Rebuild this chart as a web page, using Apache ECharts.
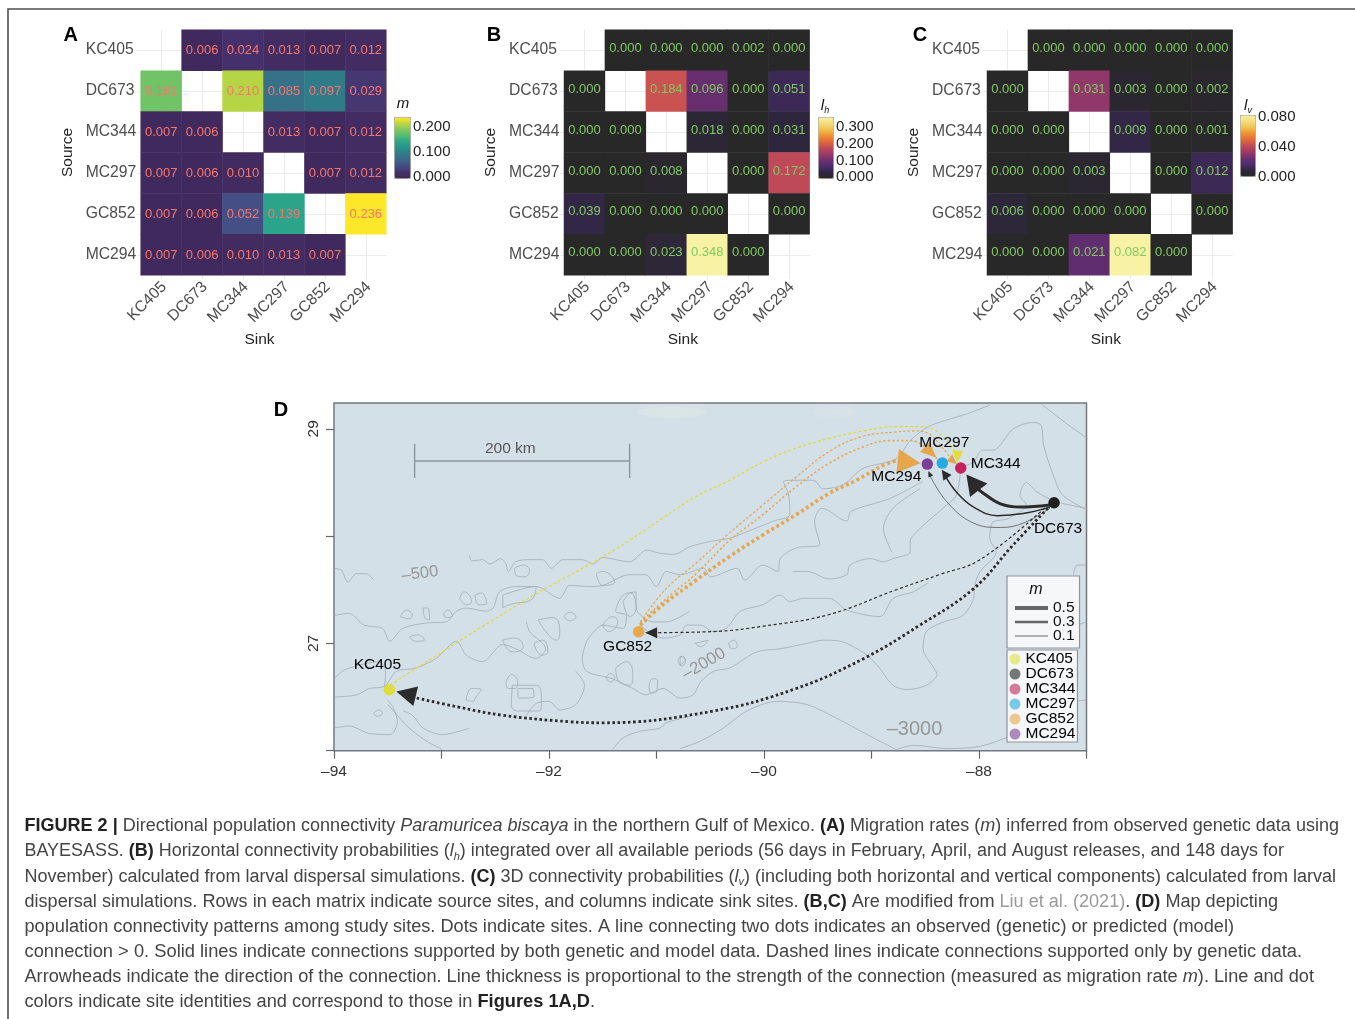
<!DOCTYPE html>
<html><head><meta charset="utf-8">
<style>html,body{margin:0;padding:0;background:#fff}#c{width:1355px;height:1019px}</style>
<script src="https://cdn.jsdelivr.net/npm/echarts@6/dist/echarts.min.js"></script>
</head><body><div id="c"></div>
<script>
// ---------- heat-matrix data ----------
const sites = ['KC405','DC673','MC344','MC297','GC852','MC294'];
const migrationM = [
 [null,.006,.024,.013,.007,.012],
 [.181,null,.210,.085,.097,.029],
 [.007,.006,null,.013,.007,.012],
 [.007,.006,.010,null,.007,.012],
 [.007,.006,.052,.139,null,.236],
 [.007,.006,.010,.013,.007,null]];
const horizontalLh = [
 [null,0,0,0,.002,0],
 [0,null,.184,.096,0,.051],
 [0,0,null,.018,0,.031],
 [0,0,.008,null,0,.172],
 [.039,0,0,0,null,0],
 [0,0,.023,.348,0,null]];
const verticalLv = [
 [null,0,0,0,0,0],
 [0,null,.031,.003,0,.002],
 [0,0,null,.009,0,.001],
 [0,0,.003,null,0,.012],
 [.006,0,0,0,null,0],
 [0,0,.021,.082,0,null]];
const ticksM = [0,.1,.2], ticksLh = [0,.1,.2,.3], ticksLv = [0,.04,.08];

// ---------- map data (longitude, latitude) ----------
const siteLonLat = {KC405:[-93.485,26.568],DC673:[-87.302,28.31],MC344:[-88.17,28.634],MC297:[-88.341,28.68],GC852:[-91.166,27.108],MC294:[-88.481,28.671]};
const arcKcMc344 = [[-93.48,26.61],[-92.24,27.39],[-91.53,27.79],[-91.25,27.96],[-90.94,28.17],[-90.63,28.37],[-90.32,28.52],[-90.01,28.69],[-89.7,28.82],[-89.39,28.91],[-89.08,28.98],[-88.77,29.02],[-88.52,29.02],[-88.36,28.95],[-88.21,28.77]];
const arcGcMc344 = [[-91.15,27.2],[-90.91,27.51],[-90.63,27.75],[-90.32,28.03],[-90.01,28.29],[-89.7,28.55],[-89.39,28.79],[-89.08,28.93],[-88.77,28.97],[-88.58,28.98],[-88.46,28.95],[-88.33,28.81],[-88.22,28.67]];
const arcGcMc297 = [[-91.15,27.2],[-90.87,27.45],[-90.63,27.65],[-90.32,27.96],[-90.01,28.2],[-89.7,28.46],[-89.39,28.68],[-89.08,28.83],[-88.83,28.89],[-88.64,28.89],[-88.49,28.82],[-88.39,28.72]];
const arcGcMc294 = [[-91.15,27.17],[-90.94,27.36],[-90.63,27.59],[-90.32,27.81],[-90.01,28.01],[-89.7,28.2],[-89.39,28.4],[-89.14,28.52],[-88.89,28.66],[-88.74,28.71]];
const arcDcMc344 = [[-87.34,28.29],[-87.62,28.27],[-87.8,28.3],[-87.96,28.4],[-88.05,28.47]];
const arcDcMc297 = [[-87.34,28.27],[-87.59,28.21],[-87.83,28.19],[-88.05,28.27],[-88.21,28.41],[-88.32,28.57]];
const arcDcMc294 = [[-87.34,28.26],[-87.59,28.12],[-87.8,28.08],[-88.05,28.12],[-88.3,28.32],[-88.46,28.57]];
const arcDcGc852 = [[-87.39,28.26],[-87.99,27.78],[-88.37,27.64],[-88.77,27.5],[-89.39,27.27],[-90.01,27.16],[-90.47,27.11],[-91.06,27.1]];
const arcDcKc405 = [[-87.36,28.26],[-87.68,27.92],[-88.05,27.51],[-88.55,27.17],[-89.07,26.86],[-89.7,26.58],[-90.47,26.37],[-91.5,26.26],[-91.81,26.27],[-92.43,26.33],[-92.86,26.41],[-93.27,26.5]];
const arrowHeads = [ // lon, lat, heading
 {at:[-88.65,28.69],rot:-96,key:'big',c:'o'},{at:[-88.45,28.78],rot:-133,key:'mid',c:'o'},{at:[-88.24,28.7],rot:-130,key:'small',c:'o'},
 {at:[-88.2,28.74],rot:180,key:'small2',c:'y'},{at:[-88.06,28.5],rot:38,key:'huge',c:'k'},{at:[-88.32,28.58],rot:35,key:'small3',c:'k'},
 {at:[-88.46,28.58],rot:25,key:'tiny',c:'k'},{at:[-93.33,26.53],rot:76,key:'huge2',c:'k'},{at:[-91.05,27.1],rot:90,key:'small4',c:'k'}];
const scaleBar = [[-93.25,28.86],[-93.25,28.54],[-93.25,28.7],[-91.25,28.7],[-91.25,28.86],[-91.25,28.54]];
const mapTexts = [
 {name:'200 km',at:[-92.36,28.81],kind:'scale'},{name:'–500',at:[-93.2,27.65],kind:'d500'},
 {name:'–2000',at:[-90.56,26.81],kind:'d2000'},{name:'–3000',at:[-88.6,26.2],kind:'d3000'}];
const contourLines = [
 [[-92.74,27.82],[-92.72,27.77],[-92.62,27.78],[-92.55,27.74],[-92.45,27.79],[-92.4,27.74],[-92.38,27.67],[-92.31,27.76],[-92.18,27.78],[-92.06,27.78],[-91.98,27.7],[-91.87,27.78],[-91.69,27.78],[-91.59,27.74],[-91.5,27.8],[-91.25,27.76],[-91.09,27.87],[-90.97,27.84],[-90.84,27.83],[-90.69,27.9],[-90.5,27.95],[-90.32,27.98],[-90.16,28.04],[-89.91,28.14],[-89.76,28.2],[-89.77,28.38],[-89.82,28.51],[-89.7,28.52],[-89.54,28.52],[-89.45,28.44],[-89.26,28.48],[-89.08,28.63],[-88.77,28.72],[-88.64,28.89],[-88.47,29.02],[-88.27,29.09],[-88.11,29.14],[-87.9,29.22]],
 [[-88.18,28.64],[-88.05,28.69],[-87.97,28.8],[-87.87,28.8],[-87.68,29],[-87.49,29.06],[-87.42,29.03],[-87.4,28.85],[-87.31,28.57],[-87.22,28.38],[-86.99,28.24]],
 [[-87,28.26],[-87.28,28.32],[-87.46,28.41],[-87.56,28.5],[-87.62,28.38],[-87.56,28.29],[-87.74,28.16],[-87.87,28.13],[-87.9,27.98],[-87.84,27.85],[-87.99,27.67],[-88.04,27.54],[-88.05,27.42],[-88.15,27.26],[-88.33,27.2],[-88.49,27.11],[-88.52,26.95],[-88.42,26.77],[-88.39,26.71],[-88.49,26.61],[-88.67,26.57],[-88.8,26.61],[-88.95,26.8],[-89.07,26.91],[-89.29,27.02],[-89.45,27.03],[-89.6,27],[-89.85,26.95],[-90.07,26.92],[-90.32,26.77],[-90.47,26.74],[-90.59,26.64],[-90.66,26.52],[-90.78,26.49],[-90.94,26.58],[-91.1,26.52],[-91.22,26.58],[-91.41,26.67],[-91.65,26.74],[-91.69,26.86],[-91.65,27.02]],
 [[-88.47,27.57],[-88.61,27.48],[-88.8,27.42],[-88.92,27.25],[-89.23,27.31],[-89.39,27.42],[-89.63,27.42],[-89.76,27.39],[-89.85,27.45],[-90.01,27.36],[-90.22,27.3],[-90.35,27.14],[-90.47,27.11],[-90.59,27.17],[-90.72,27.17],[-90.78,27.08],[-90.94,27.05],[-91.16,27.17]],
 [[-88.17,28.63],[-88.21,28.38],[-88.3,28.29],[-88.55,28.07],[-88.64,27.95],[-88.64,27.85],[-88.8,27.79],[-88.89,27.76],[-89.01,27.79],[-89.2,27.73],[-89.23,27.64],[-89.39,27.6],[-89.6,27.67],[-89.73,27.67]],
 [[-88.55,28.44],[-88.8,28.26],[-88.89,28.07],[-88.81,27.85]],
 [[-88.52,28.51],[-88.83,28.35],[-89.19,28.23],[-89.23,28.14],[-89.46,28.26],[-89.53,28.14],[-89.48,27.92],[-89.7,27.89],[-89.85,27.79],[-89.87,27.67],[-90.01,27.73],[-90.18,27.59],[-90.25,27.7],[-90.5,27.62],[-90.56,27.7],[-90.78,27.64],[-90.91,27.67],[-91,27.53],[-91.1,27.64],[-91.25,27.64],[-91.5,27.54],[-91.62,27.53],[-91.81,27.54],[-91.9,27.42],[-92.12,27.53],[-92.31,27.53],[-92.46,27.48],[-92.52,27.33],[-92.59,27.3],[-92.77,27.33],[-92.86,27.3],[-92.96,27.2],[-93.14,27.19],[-93.36,27.14],[-93.48,27.02],[-93.55,27.14],[-93.72,27.17],[-93.86,27.28],[-94,27.26]],
 [[-94,27.7],[-93.93,27.68],[-93.87,27.57],[-93.79,27.65],[-93.7,27.65],[-93.63,27.59]],
 [[-94,26.5],[-93.79,26.52],[-93.67,26.58],[-93.53,26.6],[-93.42,26.74],[-93.24,26.77],[-93.05,26.86],[-92.86,27.02],[-92.77,26.89],[-92.62,26.83],[-92.43,26.99],[-92.31,26.95],[-92.12,26.86],[-92.03,26.95],[-92.18,27.11],[-92.21,27.2]],
 [[-94,26.67],[-93.92,26.74],[-93.83,26.78],[-93.58,26.83],[-93.52,26.74],[-93.53,26.6]],
 [[-94,26.21],[-93.86,26.23],[-93.67,26.16],[-93.48,26.15],[-93.41,26.27],[-93.45,26.4],[-93.5,26.47]],
 [[-93.5,26.43],[-93.33,26.24],[-93.3,26.21],[-93.14,26.09],[-92.99,26.01]],
 [[-93.36,26.37],[-93.27,26.33],[-93.17,26.21],[-92.99,26.15],[-92.74,26.21]],
 [[-90.69,26.32],[-90.91,26.26],[-90.97,26.21],[-91.16,26.18],[-91.31,26.12],[-91.41,26.01]],
 [[-87,26.47],[-87.09,26.46],[-87.37,26.3],[-87.68,26.15],[-87.99,26.04],[-88.3,26.02],[-88.61,26.05],[-88.77,26.01]],
 [[-88.77,26.01],[-89.04,26.15],[-89.32,26.3],[-89.6,26.43],[-89.88,26.46],[-90.16,26.37],[-90.38,26.21],[-90.59,26.09],[-90.78,26.02]],
 [[-87,27.73],[-87.09,27.73],[-87.12,27.64]],
 [[-87,27.2],[-87.09,27.17]],
 [[-87.42,29.23],[-87.28,29.12],[-87.12,29],[-86.99,28.91]],
 [[-91.65,27.02],[-91.5,27.17],[-91.31,27.14],[-91.28,27.26],[-91.38,27.3],[-91.31,27.45],[-91.19,27.48],[-91.19,27.33],[-91.03,27.2],[-90.91,27.2],[-90.69,27.3]],
 [[-91.75,26.74],[-91.67,26.61],[-91.75,26.43],[-91.9,26.38],[-92,26.46],[-92.12,26.44],[-92.21,26.33]]
];
const contourBlobs = [
 [[-92.32,27.7],[-92.24,27.73],[-92.18,27.68],[-92.23,27.62],[-92.31,27.64]],
 [[-93.38,27.25],[-93.33,27.31],[-93.27,27.26],[-93.31,27.23]],
 [[-92.83,27.42],[-92.79,27.48],[-92.72,27.39],[-92.77,27.36]],
 [[-92.69,27.45],[-92.63,27.47],[-92.58,27.37],[-92.65,27.36]],
 [[-92.98,27.28],[-92.94,27.31],[-92.9,27.26],[-92.96,27.24]],
 [[-93.17,27.33],[-93.13,27.33],[-93.11,27.22],[-93.15,27.23]],
 [[-93.3,27.06],[-93.22,27.08],[-93.16,27.03],[-93.24,27.02]],
 [[-93.63,26.35],[-93.58,26.38],[-93.55,26.35],[-93.6,26.32]],
 [[-91.86,27.25],[-91.81,27.29],[-91.75,27.25],[-91.81,27.21]],
 [[-92.77,26.47],[-92.72,26.58],[-92.63,26.57],[-92.68,26.5],[-92.71,26.46]],
 [[-92.29,26.58],[-92.15,26.58],[-92.14,26.5],[-92.28,26.49]],
 [[-92.34,26.61],[-92.12,26.61],[-92.07,26.47],[-92.09,26.37],[-92.29,26.37],[-92.35,26.43]],
 [[-92.4,26.64],[-92.35,26.71],[-92.29,26.64],[-92.32,26.58],[-92.38,26.58]],
 [[-92.43,27.03],[-92.32,27.05],[-92.24,26.97],[-92.32,26.92],[-92.38,26.94]],
 [[-92.14,27],[-92.06,27.03],[-92.01,26.92],[-92.07,26.89]],
 [[-92.1,27.22],[-91.96,27.24],[-91.9,27.11],[-91.93,27.03],[-92.03,27.11]],
 [[-91.38,26.77],[-91.28,26.83],[-91.22,26.71],[-91.25,26.61],[-91.36,26.66]],
 [[-91.47,26.68],[-91.43,26.72],[-91.39,26.68],[-91.43,26.64]],
 [[-91.07,26.58],[-91.04,26.67],[-90.99,26.66],[-91,26.55],[-91.05,26.54]],
 [[-90.8,26.85],[-90.76,26.88],[-90.73,26.83],[-90.77,26.79]],
 [[-91.31,27.39],[-91.24,27.47],[-91.19,27.33],[-91.25,27.25]],
 [[-91.5,27.17],[-91.41,27.25],[-91.36,27.2],[-91.45,27.11]],
 [[-92.43,27.45],[-92.24,27.51],[-92.12,27.53],[-92.15,27.42],[-92.37,27.36],[-92.43,27.33]],
 [[-91.56,27.65],[-91.5,27.67],[-91.39,27.57],[-91.5,27.54]],
 [[-90.64,27],[-90.52,27.03],[-90.59,26.97]],
 [[-90.33,27],[-90.28,27.03],[-90.25,26.97],[-90.3,26.95]],
 [[-90.78,26.88],[-90.73,26.85],[-90.78,26.8]]
];
const widthLegend = [['0.5',4],['0.3',2.4],['0.1',1]];

// ---------- caption text ----------
const captionLines = [
 [['b','FIGURE 2 |'],['n',' Directional population connectivity '],['i','Paramuricea biscaya'],['n',' in the northern Gulf of Mexico. '],['b','(A)'],['n',' Migration rates ('],['i','m'],['n',') inferred from observed genetic data using']],
 [['n','BAYESASS. '],['b','(B)'],['n',' Horizontal connectivity probabilities ('],['i','l'],['s','h'],['n',') integrated over all available periods (56 days in February, April, and August releases, and 148 days for']],
 [['n','November) calculated from larval dispersal simulations. '],['b','(C)'],['n',' 3D connectivity probabilities ('],['i','l'],['s','v'],['n',') (including both horizontal and vertical components) calculated from larval']],
 [['n','dispersal simulations. Rows in each matrix indicate source sites, and columns indicate sink sites. '],['b','(B,C)'],['n',' Are modified from '],['g','Liu et al. (2021)'],['n','. '],['b','(D)'],['n',' Map depicting']],
 [['n','population connectivity patterns among study sites. Dots indicate sites. A line connecting two dots indicates an observed (genetic) or predicted (model)']],
 [['n','connection > 0. Solid lines indicate connections supported by both genetic and model data. Dashed lines indicate connections supported only by genetic data.']],
 [['n','Arrowheads indicate the direction of the connection. Line thickness is proportional to the strength of the connection (measured as migration rate '],['i','m'],['n','). Line and dot']],
 [['n','colors indicate site identities and correspond to those in '],['b','Figures 1A,D'],['n','.']]
];
const captionEnds = [1339,1284,1336,1278,1234,1302,1314,595];

// ---------- styling ----------
const FONT = '"Liberation Sans", Arial, sans-serif';
const capSize = 18;
const capStyles = {
 n:{font:`${capSize}px ${FONT}`,color:'#444',fontSize:capSize},
 b:{font:`bold ${capSize}px ${FONT}`,color:'#222',fontSize:capSize,fontWeight:'bold'},
 i:{font:`italic ${capSize}px ${FONT}`,color:'#444',fontSize:capSize,fontStyle:'italic'},
 s:{font:`italic 11px ${FONT}`,color:'#444',fontSize:11,fontStyle:'italic'},
 g:{font:`${capSize}px ${FONT}`,color:'#9a9a9a',fontSize:capSize}
};
const viridisStops = ['#3e2757','#46306b','#454b84','#3f6489','#307a88','#27908a','#2ca68a','#52bb72','#80c860','#bcd642','#fde72a'];
const infernoStops = ['#282828','#2f2640','#4c2c6e','#6f2f70','#9b3a68','#bf4a58','#e0683c','#ee9030','#f0c050','#f3dc7c','#f7f2a4'];
const panels = [
 {key:'A',m:migrationM,left:140.7,max:.236,stops:viridisStops,txt:'#f8766d',dy:.7,bar:[394,117,16,61],axTop:118.3,axH:59,axMax:.236,ticks:ticksM,title:['{i|m}',403,104],letter:[70.7,35]},
 {key:'B',m:horizontalLh,left:564,max:.348,stops:infernoStops,txt:'#80c962',dy:-2,bar:[818,117,15,61],axTop:119.3,axH:58,axMax:.348,ticks:ticksLh,title:['{i|l}{s|h}',825,105.7],letter:[494,35]},
 {key:'C',m:verticalLv,left:987,max:.082,stops:infernoStops,txt:'#80c962',dy:-2,bar:[1240,115,15,61],axTop:115.7,axH:61.1,axMax:.082,ticks:ticksLv,title:['{i|l}{s|v}',1248,105.7],letter:[920,35]}
];
const arrowSizes = {big:[24,23],mid:[14,16],small:[9,10],small2:[11,12],huge:[22,20],huge2:[20,20],small3:[10,10],tiny:[5,6],small4:[11,12]};
const arrowColors = {o:'#e5a64e',y:'#dedd3c',k:'#2b2b2b'};
const siteColors = {KC405:'#dedd3c',DC673:'#1f1f1f',MC344:'#c2235c',MC297:'#27aae1',GC852:'#e9a84a',MC294:'#7e3f98'};
const siteLabelOffset = {KC405:[-12,-25],DC673:[4,26],MC344:[35,-4],MC297:[2,-20],GC852:[-11,15],MC294:[-31,13]};
const textStyles = {
 scale:{fontSize:15.5,color:'#333',rotate:0},
 d500:{fontSize:16.5,color:'#868686',rotate:7},
 d2000:{fontSize:17,color:'#868686',rotate:30},
 d3000:{fontSize:20,color:'#868686',rotate:0}
};
const arcs = [
 {d:arcKcMc344,c:'#e0d92e',w:1.2,t:[3,2.2]},
 {d:arcGcMc344,c:'#e5a64e',w:1.2,t:[2.5,2]},
 {d:arcGcMc297,c:'#e5a64e',w:1.7,t:[2,2.5]},
 {d:arcGcMc294,c:'#e5a64e',w:3.6,t:[3,2.8]},
 {d:arcDcMc344,c:'#2b2b2b',w:3,t:'solid'},
 {d:arcDcMc297,c:'#2b2b2b',w:1.5,t:'solid'},
 {d:arcDcMc294,c:'#555',w:.8,t:'solid'},
 {d:arcDcGc852,c:'#2b2b2b',w:1.2,t:[3,2.5]},
 {d:arcDcKc405,c:'#2b2b2b',w:2.8,t:[2.6,2.6]}
];

// ---------- option assembly ----------
const grids=[], xAxes=[], yAxes=[], series=[], visualMaps=[], graphics=[];
const CELL_TOP=29.7, MAT=245.6;
const axisText={color:'#4d4d4d',fontSize:15.7,fontFamily:FONT};
const nameText={color:'#222',fontSize:15.5,fontFamily:FONT};
panels.forEach((p,i)=>{
 grids.push({left:p.left,top:CELL_TOP,width:MAT,height:MAT,show:false});
 const tick={show:true,alignWithLabel:true,length:4,lineStyle:{color:'#ebebeb'}};
 const split={show:true,alignWithLabel:true,lineStyle:{color:'#ebebeb',width:1}};
 xAxes.push({type:'category',gridIndex:i,data:sites,axisLine:{show:false},axisTick:tick,splitLine:split,
  axisLabel:{...axisText,rotate:45,margin:12,interval:0,padding:[0,-4,0,0]},name:'Sink',nameLocation:'middle',nameGap:56,nameMoveOverlap:false,nameTextStyle:{...nameText,padding:[0,8,0,0]}});
 yAxes.push({type:'category',gridIndex:i,data:sites,inverse:true,axisLine:{show:false},axisTick:tick,splitLine:split,
  axisLabel:{...axisText,align:'left',margin:55,interval:0},name:'Source',nameLocation:'middle',nameGap:65,nameRotate:90,nameMoveOverlap:false,nameTextStyle:nameText});
 const data=[];
 p.m.forEach((row,r)=>row.forEach((v,c)=>{ if(v!==null) data.push([c,r,v]); }));
 series.push({type:'heatmap',name:'heat'+p.key,xAxisIndex:i,yAxisIndex:i,data,
  itemStyle:{borderWidth:0},
  label:{show:true,color:p.txt,fontSize:13,fontFamily:FONT,offset:[0,p.dy],formatter:o=>o.value[2].toFixed(3)},
  emphasis:{disabled:true}});
 visualMaps.push({type:'continuous',seriesIndex:i,dimension:2,min:0,max:p.max,inRange:{color:p.stops},calculable:false,realtime:false,
  left:p.bar[0],top:p.bar[1],itemWidth:p.bar[2],itemHeight:p.bar[3],padding:0,text:null,borderColor:'#b0ad98',borderWidth:1,hoverLink:false,silent:true});
});
panels.forEach((p,i)=>{
 const g=3+i;
 grids.push({left:p.bar[0],top:p.axTop,width:p.bar[2],height:p.axH,show:false});
 xAxes.push({type:'value',gridIndex:g,show:false,min:0,max:1});
 yAxes.push({type:'value',gridIndex:g,position:'right',min:0,max:p.axMax,z:8,axisLine:{show:false},splitLine:{show:false},
  axisTick:{show:true,inside:true,length:3,lineStyle:{color:'rgba(255,255,255,.8)'},customValues:p.ticks},
  axisLabel:{color:'#222',fontSize:15,fontFamily:FONT,margin:3,customValues:p.ticks,formatter:v=>v.toFixed(3)}});
 graphics.push({type:'text',x:p.title[1],y:p.title[2],z:20,silent:true,style:{text:p.title[0],textAlign:'center',textVerticalAlign:'middle',
   rich:{i:{fontSize:15,fontStyle:'italic',fontFamily:FONT,fill:'#111',lineHeight:18},s:{fontSize:9,fontStyle:'italic',fontFamily:FONT,fill:'#111',verticalAlign:'bottom',lineHeight:12}}}});
 graphics.push({type:'text',x:p.letter[0],y:p.letter[1],z:20,silent:true,style:{text:p.key,fontSize:20,fontWeight:'bold',fontFamily:FONT,fill:'#000',textAlign:'center',textVerticalAlign:'middle'}});
});
graphics.push({type:'text',x:281,y:410,z:20,silent:true,style:{text:'D',fontSize:20,fontWeight:'bold',fontFamily:FONT,fill:'#000',textAlign:'center',textVerticalAlign:'middle'}});
// map panel
grids.push({left:334,top:403,width:752.5,height:347.7,show:true,backgroundColor:'#d4e0e8',borderColor:'#73787d',borderWidth:1.5});
xAxes.push({type:'value',gridIndex:6,min:-94,max:-87,interval:1,axisLine:{show:false},splitLine:{show:false},
 axisTick:{show:true,length:8,lineStyle:{color:'#666',width:1.2},customValues:[-94,-93,-92,-91,-90,-89,-88,-87]},
 axisLabel:{color:'#333',fontSize:15.5,fontFamily:FONT,margin:13,customValues:[-94,-92,-90,-88],formatter:v=>'–'+Math.abs(v)}});
yAxes.push({type:'value',gridIndex:6,min:26,max:29.24,interval:1,axisLine:{show:false},splitLine:{show:false},
 axisTick:{show:true,length:8,lineStyle:{color:'#666',width:1.2},customValues:[26,27,28,29]},
 axisLabel:{color:'#333',fontSize:15.5,fontFamily:FONT,margin:12,rotate:90,customValues:[27,29],formatter:v=>String(v)}});
const onMap={xAxisIndex:6,yAxisIndex:6};
contourLines.forEach((d,i)=>series.push({...onMap,type:'line',name:'contour'+i,data:d,smooth:.3,symbol:'none',silent:true,z:2,lineStyle:{color:'#a2abb2',width:.8}}));
contourBlobs.forEach((d,i)=>series.push({...onMap,type:'line',name:'blob'+i,data:d.concat([d[0]]),smooth:.5,symbol:'none',silent:true,z:2,lineStyle:{color:'#a2abb2',width:.8}}));
series.push({...onMap,type:'line',name:'scale bar',data:scaleBar,symbol:'none',silent:true,z:3,lineStyle:{color:'#8d959c',width:1.4}});
arcs.forEach((a,i)=>series.push({...onMap,type:'line',name:'arc'+i,data:a.d,smooth:.4,symbol:'none',silent:true,z:4,lineStyle:{color:a.c,width:a.w,type:a.t}}));
series.push({...onMap,type:'scatter',name:'arrowheads',silent:true,z:5,data:arrowHeads.map(a=>({value:a.at,symbol:'triangle',symbolSize:arrowSizes[a.key],symbolRotate:a.rot,itemStyle:{color:arrowColors[a.c],opacity:1}}))});
sites.forEach(s=>series.push({...onMap,type:'scatter',name:s,silent:true,z:6,symbolSize:11.5,data:[siteLonLat[s]],itemStyle:{color:siteColors[s],opacity:1},
  label:{show:true,formatter:'{a}',position:'inside',offset:siteLabelOffset[s],color:'#000',fontSize:15.5,fontFamily:FONT}}));
series.push({...onMap,type:'scatter',name:'map text',silent:true,z:6,symbolSize:0,
  data:mapTexts.map(t=>({name:t.name,value:t.at,label:{show:true,position:'inside',formatter:'{b}',fontFamily:FONT,...textStyles[t.kind]}}))});
widthLegend.forEach(w=>series.push({...onMap,type:'line',name:w[0],data:[],symbol:'none',lineStyle:{color:'#666',width:w[1]}}));
// legend titles + frame + land tint
graphics.push({type:'text',x:1036,y:590,z:20,silent:true,style:{text:'m',fontSize:16,fontStyle:'italic',fontFamily:FONT,fill:'#111',textAlign:'center',textVerticalAlign:'middle'}});
graphics.push({type:'polyline',z:1,silent:true,shape:{points:[[8,1019],[8,9],[1355,9]]},style:{stroke:'#505050',lineWidth:1.6,fill:null}});
graphics.push({type:'ellipse',z:1,silent:true,shape:{cx:672,cy:412,rx:34,ry:6},style:{fill:'rgba(224,236,228,.35)',shadowBlur:10,shadowColor:'rgba(224,236,228,.5)'}});
graphics.push({type:'ellipse',z:1,silent:true,shape:{cx:835,cy:412,rx:22,ry:6},style:{fill:'rgba(222,233,232,.3)',shadowBlur:8,shadowColor:'rgba(222,233,232,.4)'}});
// caption
const measure=document.createElement('canvas').getContext('2d');
const capRich={}; Object.keys(capStyles).forEach(k=>{const s=capStyles[k];
  capRich[k]={fontSize:s.fontSize,fontFamily:FONT,fill:s.color,fontWeight:s.fontWeight||'normal',fontStyle:s.fontStyle||'normal',lineHeight:k==='s'?14:22,verticalAlign:k==='s'?'bottom':'middle'};});
captionLines.forEach((segs,i)=>{
 let w=0; segs.forEach(([k,t])=>{measure.font=capStyles[k].font; w+=measure.measureText(t).width;});
 graphics.push({type:'text',x:24.5,y:826.3+i*25.17,z:20,silent:true,scaleX:(captionEnds[i]-24.5)/w,
  style:{text:segs.map(([k,t])=>`{${k}|${t}}`).join(''),textAlign:'left',textVerticalAlign:'middle',rich:capRich}});
});

const option={animation:false,backgroundColor:'#fff',textStyle:{fontFamily:FONT},
 grid:grids,xAxis:xAxes,yAxis:yAxes,visualMap:visualMaps,series,
 legend:[
  {data:widthLegend.map(w=>w[0]),orient:'vertical',left:1007,top:576,padding:[24,5,4,6],itemWidth:33,itemHeight:14,itemGap:-2,selectedMode:false,
   backgroundColor:'#f6f7f8',borderColor:'#8f9499',borderWidth:1.2,z:10,itemStyle:{opacity:0},lineStyle:{width:'inherit'},textStyle:{color:'#111',fontSize:15.5,fontFamily:FONT}},
  {data:sites.map(s=>({name:s,icon:'circle',itemStyle:{opacity:.6}})),orient:'vertical',left:1007,top:650,padding:[1,2,0,2.5],itemWidth:11,itemHeight:11,itemGap:-1,selectedMode:false,
   backgroundColor:'#f6f7f8',borderColor:'#8f9499',borderWidth:1.2,z:10,textStyle:{color:'#000',fontSize:15.5,fontFamily:FONT}}
 ],
 graphic:{elements:graphics}};
const chart=echarts.init(document.getElementById('c'));
chart.setOption(option);
</script></body></html>
